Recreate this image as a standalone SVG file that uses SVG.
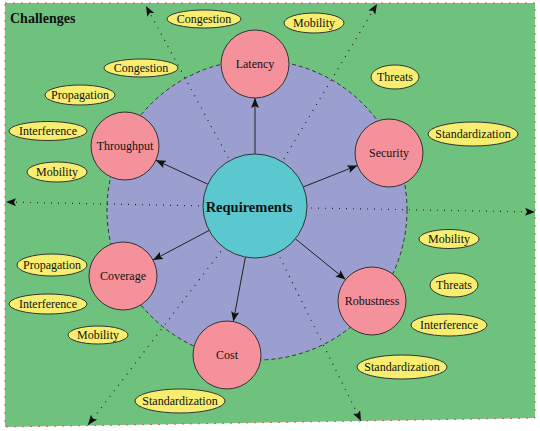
<svg xmlns="http://www.w3.org/2000/svg" width="540" height="431" viewBox="0 0 540 431">
<style>
.bg{fill:#6fc27e;stroke:#e8505a;stroke-width:1;stroke-dasharray:2 6}
.zone{fill:#9b9fd0;stroke:#333;stroke-width:1;stroke-dasharray:4 3}
.node{fill:#f4919a;stroke:#333;stroke-width:1}
.core{fill:#5bc8d0;stroke:#333;stroke-width:1}
.ch{fill:#f7ee6f;stroke:#333;stroke-width:1}
.dot{stroke:#222;stroke-width:1.2;stroke-dasharray:1 6;fill:none}
.arr{stroke:#222;stroke-width:1;fill:none}
text{font-family:"Liberation Serif","Times New Roman",serif;font-size:12px;fill:#111;text-anchor:middle}
.big{font-size:14.5px;font-weight:bold}
.title{font-size:14px;font-weight:bold;text-anchor:start}
</style>
<defs>
<marker id="ah" viewBox="0 0 10 8" refX="10" refY="4" markerWidth="10" markerHeight="8" markerUnits="userSpaceOnUse" orient="auto">
<path d="M0,0 L10,4 L0,8 L2,4 Z" fill="#111"/>
</marker>
</defs>
<polygon class="bg" points="5,3 535,3 535,418 5,427"/>
<text class="title" x="10" y="23">Challenges</text>
<circle class="zone" cx="257" cy="210" r="150"/>
<g id="connectors">
<line class="dot" x1="255" y1="207" x2="146" y2="6" marker-end="url(#ah)"/>
<line class="dot" x1="255" y1="207" x2="377" y2="4" marker-end="url(#ah)"/>
<line class="dot" x1="255" y1="207" x2="6" y2="202" marker-end="url(#ah)"/>
<line class="dot" x1="255" y1="207" x2="535" y2="212" marker-end="url(#ah)"/>
<line class="dot" x1="255" y1="207" x2="88" y2="425" marker-end="url(#ah)"/>
<line class="dot" x1="255" y1="207" x2="361" y2="421" marker-end="url(#ah)"/>
<line class="arr" x1="255" y1="154" x2="255" y2="98" marker-end="url(#ah)"/>
<line class="arr" x1="207.8" y1="184.2" x2="155.9" y2="160.2" marker-end="url(#ah)"/>
<line class="arr" x1="303.4" y1="186.9" x2="357.4" y2="165.5" marker-end="url(#ah)"/>
<line class="arr" x1="209.1" y1="230.4" x2="153" y2="260.1" marker-end="url(#ah)"/>
<line class="arr" x1="245.4" y1="257.1" x2="233.3" y2="321.6" marker-end="url(#ah)"/>
<line class="arr" x1="295.4" y1="238.8" x2="345.6" y2="279.6" marker-end="url(#ah)"/>
</g>
<g id="requirements"><circle class="core" cx="255" cy="206" r="52"/><text class="big" x="249" y="212">Requirements</text></g>
<g id="latency"><circle class="node" cx="255" cy="64" r="34"/><text x="255" y="68">Latency</text></g>
<g id="throughput"><circle class="node" cx="125" cy="146" r="34"/><text x="125" y="150">Throughput</text></g>
<g id="security"><circle class="node" cx="389" cy="153" r="34"/><text x="389" y="157">Security</text></g>
<g id="coverage"><circle class="node" cx="123" cy="276" r="34"/><text x="123" y="280">Coverage</text></g>
<g id="cost"><circle class="node" cx="227" cy="355" r="34"/><text x="227" y="359">Cost</text></g>
<g id="robustness"><circle class="node" cx="372" cy="301" r="34"/><text x="372" y="305">Robustness</text></g>
<g id="c1"><ellipse class="ch" cx="204" cy="19" rx="37" ry="9"/><text x="204" y="23">Congestion</text></g>
<g id="c2"><ellipse class="ch" cx="314" cy="23" rx="30" ry="10"/><text x="314" y="27">Mobility</text></g>
<g id="c3"><ellipse class="ch" cx="141" cy="68" rx="37" ry="9"/><text x="141" y="72">Congestion</text></g>
<g id="c4"><ellipse class="ch" cx="80" cy="95" rx="35" ry="10"/><text x="80" y="99">Propagation</text></g>
<g id="c5"><ellipse class="ch" cx="48" cy="131" rx="39" ry="9.5"/><text x="48" y="135">Interference</text></g>
<g id="c6"><ellipse class="ch" cx="57" cy="172" rx="30" ry="10"/><text x="57" y="176">Mobility</text></g>
<g id="c7"><ellipse class="ch" cx="395" cy="77" rx="24" ry="12"/><text x="395" y="81">Threats</text></g>
<g id="c8"><ellipse class="ch" cx="473" cy="134" rx="45" ry="12"/><text x="473" y="138">Standardization</text></g>
<g id="c9"><ellipse class="ch" cx="449" cy="239" rx="30" ry="9.5"/><text x="449" y="243">Mobility</text></g>
<g id="c10"><ellipse class="ch" cx="454" cy="285" rx="24" ry="12"/><text x="454" y="289">Threats</text></g>
<g id="c11"><ellipse class="ch" cx="449" cy="325" rx="38" ry="11"/><text x="449" y="329">Interference</text></g>
<g id="c12"><ellipse class="ch" cx="402" cy="367" rx="45" ry="12"/><text x="402" y="371">Standardization</text></g>
<g id="c13"><ellipse class="ch" cx="52" cy="265" rx="35" ry="11"/><text x="52" y="269">Propagation</text></g>
<g id="c14"><ellipse class="ch" cx="48" cy="304" rx="39" ry="10"/><text x="48" y="308">Interference</text></g>
<g id="c15"><ellipse class="ch" cx="98" cy="335" rx="30" ry="9"/><text x="98" y="339">Mobility</text></g>
<g id="c16"><ellipse class="ch" cx="180" cy="401" rx="45" ry="12"/><text x="180" y="405">Standardization</text></g>
</svg>
